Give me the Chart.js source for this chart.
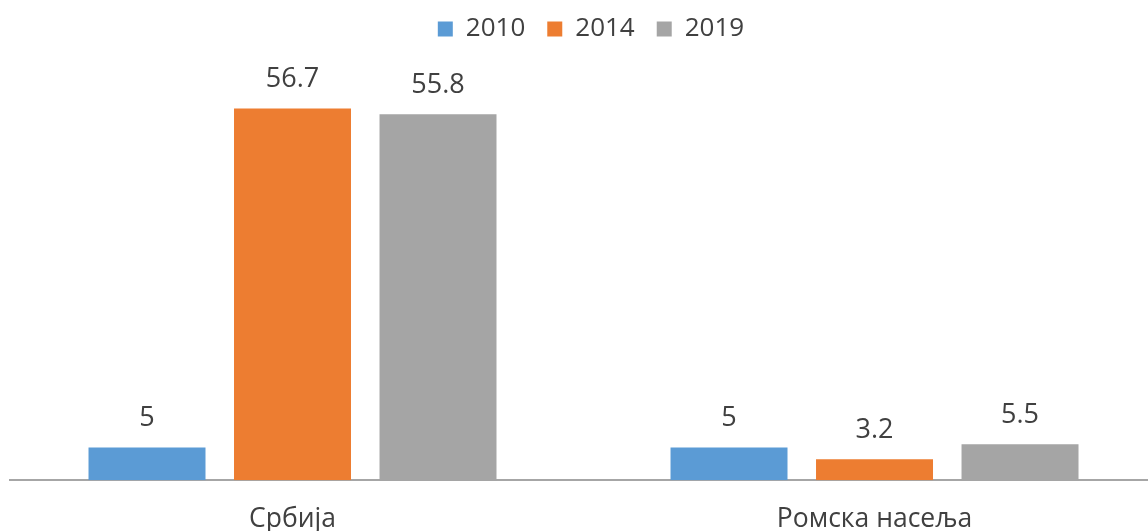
<!DOCTYPE html>
<html>
<head>
<meta charset="utf-8">
<script src="https://cdn.jsdelivr.net/npm/chart.js@4/dist/chart.umd.min.js"></script>
<style>
  html, body { margin: 0; padding: 0; background: #fff; overflow: hidden; }
  #wrap { width: 1148px; height: 531px; position: relative; }
</style>
</head>
<body>
<div id="wrap"><canvas id="c"></canvas></div>
<script>
const categories = ['Србија', 'Ромска насеља'];
const seriesNames = ['2010', '2014', '2019'];
const values2010 = [5, 5];
const values2014 = [56.7, 3.2];
const values2019 = [55.8, 5.5];
const seriesColors = ['#5B9BD5', '#ED7D31', '#A5A5A5'];

const FONT = 'Open Sans';
const TEXT = '#404040';

const seriesValues = [values2010, values2014, values2019];

const dataLabels = {
  id: 'dataLabels',
  afterDatasetsDraw(chart) {
    const ctx = chart.ctx;
    ctx.save();
    ctx.font = '27px "' + FONT + '"';
    ctx.fillStyle = TEXT;
    ctx.textAlign = 'center';
    ctx.textBaseline = 'alphabetic';
    chart.data.datasets.forEach((ds, di) => {
      const meta = chart.getDatasetMeta(di);
      meta.data.forEach((bar, i) => {
        ctx.fillText(String(ds.data[i].y), bar.x, bar.y - 21);
      });
    });
    ctx.restore();
  }
};

const legendShift = {
  id: 'legendShift',
  afterLayout(chart) {
    chart.legend.left += 12;
    chart.legend.right += 12;
  }
};

new Chart(document.getElementById('c'), {
  type: 'bar',
  data: {
    datasets: seriesNames.map((name, s) => ({
      label: name,
      data: seriesValues[s].map((v, i) => ({ x: i, y: v })),
      backgroundColor: seriesColors[s],
      borderWidth: 0,
      categoryPercentage: 0.75,
      barPercentage: 0.804
    }))
  },
  options: {
    responsive: true,
    maintainAspectRatio: false,
    animation: false,
    layout: { padding: { left: 10, right: 0, top: -6, bottom: -27 } },
    plugins: {
      legend: {
        position: 'top',
        labels: {
          boxWidth: 15,
          boxHeight: 15,
          padding: 22,
          color: TEXT,
          font: { family: FONT, size: 26 }
        }
      },
      tooltip: { enabled: false }
    },
    scales: {
      x: {
        type: 'linear',
        offset: false,
        bounds: 'data',
        min: -0.4854,
        max: 1.4699,
        grid: { display: false, drawTicks: false, offset: false },
        border: { display: true, color: '#A6A6A6', width: 2 },
        afterBuildTicks(scale) {
          scale.ticks = categories.map((c, i) => ({ value: i }));
        },
        ticks: {
          color: TEXT,
          font: { family: FONT, size: 26.5 },
          padding: 23,
          maxRotation: 0,
          autoSkip: false,
          callback: (v) => categories[v] !== undefined ? categories[v] : ''
        }
      },
      y: {
        display: false,
        min: 0,
        max: 65.3
      }
    }
  },
  plugins: [dataLabels, legendShift]
});
</script>
</body>
</html>
